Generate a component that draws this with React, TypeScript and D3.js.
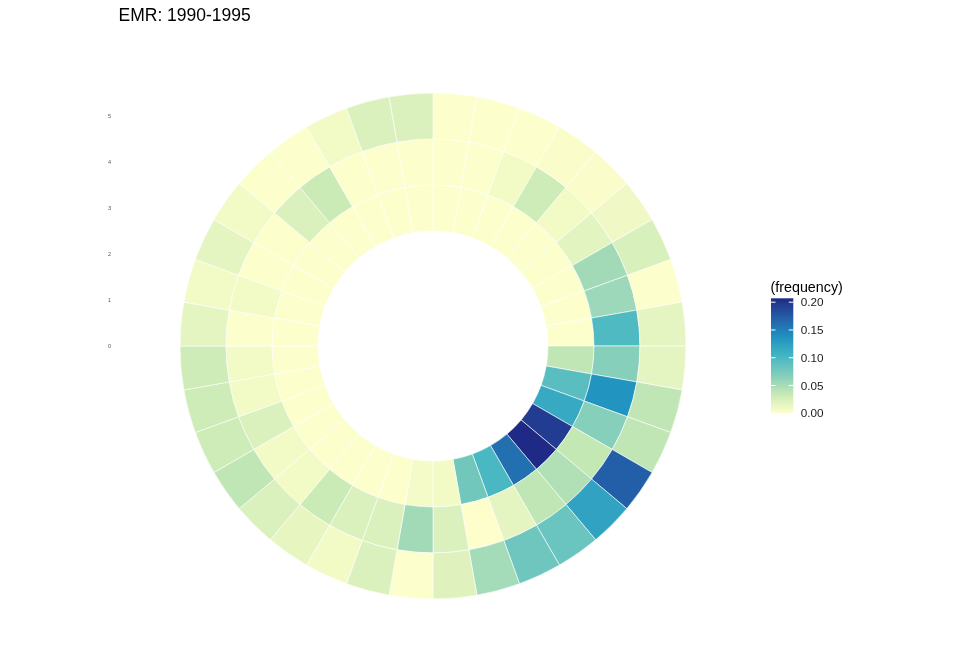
import React, { useEffect, useRef } from "react";
import * as d3 from "d3";

// wind direction bins (degrees) and the three radial levels
const directions = [0, 10, 20, 30, 40, 50, 60, 70, 80, 90, 100, 110, 120, 130, 140, 150, 160, 170,
  180, 190, 200, 210, 220, 230, 240, 250, 260, 270, 280, 290, 300, 310, 320, 330, 340, 350];
const levels = [3, 4, 5];

const freqLevel3 = [0.002, 0.002, 0.002, 0.002, 0.002, 0.002, 0.002, 0.002, 0.002,
  0.038, 0.092, 0.115, 0.195, 0.207, 0.16, 0.1, 0.078, 0.008,
  0.006, 0.002, 0.002, 0.002, 0.002, 0.002, 0.002, 0.002, 0.002,
  0.002, 0.002, 0.002, 0.002, 0.002, 0.002, 0.002, 0.002, 0.002];
const freqLevel4 = [0.002, 0.002, 0.008, 0.03, 0.008, 0.018, 0.053, 0.056, 0.097,
  0.066, 0.135, 0.066, 0.036, 0.046, 0.038, 0.016, 0.001, 0.022,
  0.053, 0.022, 0.022, 0.032, 0.008, 0.008, 0.022, 0.008, 0.008,
  0.002, 0.008, 0.002, 0.002, 0.022, 0.032, 0.002, 0.002, 0.002];
const freqLevel5 = [0.002, 0.002, 0.002, 0.003, 0.003, 0.009, 0.024, 0.002, 0.016,
  0.016, 0.038, 0.038, 0.172, 0.122, 0.083, 0.08, 0.052, 0.02,
  0.002, 0.022, 0.008, 0.015, 0.022, 0.038, 0.03, 0.03, 0.03,
  0.016, 0.008, 0.016, 0.008, 0.002, 0.002, 0.008, 0.022, 0.022];

const yTicks = [0, 1, 2, 3, 4, 5];
const legendTicks = [0, 0.05, 0.1, 0.15, 0.2];
const palette = ["#FFFFCC", "#C7E9B4", "#7FCDBB", "#41B6C4", "#1D91C0", "#225EA8", "#1E2A85"];

export default function App() {
  const svgRef = useRef<SVGSVGElement>(null);
  const width = 960;
  const height = 672;

  useEffect(() => {
    if (!svgRef.current) return;
    const svg = d3.select(svgRef.current);
    svg.selectAll("*").remove();

    const font = "'Liberation Sans', Arial, Helvetica, sans-serif";
    const cx = 433;
    const cy = 346;

    const series = [freqLevel3, freqLevel4, freqLevel5];
    const cells = levels.flatMap((lvl, i) =>
      series[i].map((v, j) => ({ dir: directions[j], lvl, v }))
    );

    const angle = d3.scaleBand<number>().domain(directions).range([0, 2 * Math.PI]).padding(0);
    const r = d3.scaleLinear().domain([0, 5.5]).range([0, 253]);
    const maxV = d3.max(cells, d => d.v) ?? 0.2;
    const color = d3.scaleLinear<string>()
      .domain(palette.map((_, i) => (i / (palette.length - 1)) * maxV))
      .range(palette)
      .interpolate(d3.interpolateLab);

    const arc = d3.arc<any>()
      .innerRadius(d => r(d.lvl - 0.5))
      .outerRadius(d => r(d.lvl + 0.5))
      .startAngle(d => angle(d.dir)!)
      .endAngle(d => angle(d.dir)! + angle.bandwidth());

    svg.append("text")
      .attr("x", 118.5).attr("y", 20.7)
      .attr("fill", "#000")
      .style("font-family", font).style("font-size", "17.5px")
      .text("EMR: 1990-1995");

    const g = svg.append("g").attr("transform", `translate(${cx},${cy})`);
    g.selectAll("path").data(cells).join("path")
      .attr("d", arc)
      .attr("fill", d => color(d.v))
      .attr("stroke", "#ffffff")
      .attr("stroke-width", 0.6);

    // radial axis labels on the left
    svg.append("g").selectAll("text").data(yTicks).join("text")
      .attr("x", 109.5).attr("y", d => cy - r(d))
      .attr("dy", "0.35em")
      .attr("text-anchor", "middle")
      .attr("fill", "#555555")
      .style("font-family", font).style("font-size", "5.5px")
      .text(d => String(d));

    // legend
    const lx = 771;
    const lw = 22.3;
    const ly = d3.scaleLinear().domain([0, maxV]).range([413.3, 298.3]);

    svg.append("text")
      .attr("x", lx - 0.5).attr("y", 292)
      .attr("fill", "#000")
      .style("font-family", font).style("font-size", "14.3px")
      .text("(frequency)");

    const grad = svg.append("defs").append("linearGradient")
      .attr("id", "freqGrad").attr("x1", 0).attr("y1", 1).attr("x2", 0).attr("y2", 0);
    d3.range(0, 1.0001, 0.05).forEach(t => {
      grad.append("stop").attr("offset", t).attr("stop-color", color(t * maxV));
    });
    svg.append("rect")
      .attr("x", lx).attr("y", ly(maxV))
      .attr("width", lw).attr("height", ly(0) - ly(maxV))
      .attr("fill", "url(#freqGrad)");

    const tk = svg.append("g");
    legendTicks.forEach(t => {
      tk.append("line").attr("x1", lx).attr("x2", lx + 4.5).attr("y1", ly(t)).attr("y2", ly(t))
        .attr("stroke", "#fff").attr("stroke-width", 1);
      tk.append("line").attr("x1", lx + lw - 4.5).attr("x2", lx + lw).attr("y1", ly(t)).attr("y2", ly(t))
        .attr("stroke", "#fff").attr("stroke-width", 1);
      tk.append("text")
        .attr("x", 800.7).attr("y", ly(t)).attr("dy", "0.35em")
        .attr("fill", "#1a1a1a")
        .style("font-family", font).style("font-size", "11.7px")
        .text(d3.format(".2f")(t));
    });
  }, []);

  return (
    <div style={{ position: "absolute", left: 0, top: 0 }}>
      <svg ref={svgRef} width={width} height={height} viewBox={`0 0 ${width} ${height}`}
        style={{ display: "block", background: "#fff", willChange: "transform" }} />
    </div>
  );
}
